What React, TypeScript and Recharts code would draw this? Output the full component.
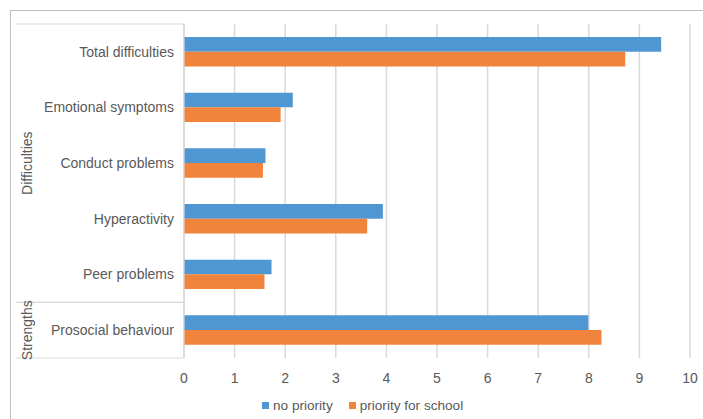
import { Bar, BarChart, CartesianGrid, Customized, Legend, XAxis, YAxis } from "recharts";

const CATEGORIES = [
  "Total difficulties",
  "Emotional symptoms",
  "Conduct problems",
  "Hyperactivity",
  "Peer problems",
  "Prosocial behaviour",
];
const NO_PRIORITY = [9.43, 2.15, 1.61, 3.93, 1.73, 7.99];
const PRIORITY_SCHOOL = [8.72, 1.91, 1.56, 3.62, 1.59, 8.25];
const X_TICKS = [0, 1, 2, 3, 4, 5, 6, 7, 8, 9, 10];
const GROUPS = [
  { name: "Difficulties", from: 0, to: 4 },
  { name: "Strengths", from: 5, to: 5 },
];

const BLUE = "#4f97d3";
const ORANGE = "#f1843c";
const TEXT = "#595959";
const LINE = "#d9d9d9";
const FONT = "'Liberation Sans', Arial, sans-serif";

const data = CATEGORIES.map((category, i) => ({
  category,
  noPriority: NO_PRIORITY[i],
  prioritySchool: PRIORITY_SCHOOL[i],
}));

const W = 703;
const H = 419;
const MARGIN = { top: 24, right: 13, bottom: 0, left: 16 };
const Y_WIDTH = 168;
const X_HEIGHT = 30;
const LEGEND_H = 31;

function GroupLabels() {
  const top = MARGIN.top;
  const bottom = H - MARGIN.bottom - X_HEIGHT - LEGEND_H;
  const band = (bottom - top) / CATEGORIES.length;
  const x1 = MARGIN.left;
  const x2 = MARGIN.left + Y_WIDTH;
  return (
    <g>
      {GROUPS.map((g) => {
        const y1 = top + g.from * band;
        const y2 = top + (g.to + 1) * band;
        const cy = (y1 + y2) / 2;
        return (
          <g key={g.name}>
            <line x1={x1} x2={x2} y1={y1} y2={y1} stroke={LINE} strokeWidth={1.2} />
            <line x1={x1} x2={x2} y1={y2} y2={y2} stroke={LINE} strokeWidth={1.2} />
            <text
              x={27}
              y={cy}
              transform={`rotate(-90 27 ${cy})`}
              textAnchor="middle"
              dominantBaseline="central"
              fill={TEXT}
              fontSize={14}
              fontFamily={FONT}
            >
              {g.name}
            </text>
          </g>
        );
      })}
    </g>
  );
}

function LegendContent() {
  const items = [
    { label: "no priority", color: BLUE },
    { label: "priority for school", color: ORANGE },
  ];
  return (
    <div style={{ display: "flex", gap: 16, paddingTop: 10, fontFamily: FONT, fontSize: 13.6, color: TEXT }}>
      {items.map((it) => (
        <div key={it.label} style={{ display: "flex", alignItems: "center" }}>
          <span style={{ width: 7, height: 7, background: it.color, display: "inline-block", marginRight: 4 }} />
          <span>{it.label}</span>
        </div>
      ))}
    </div>
  );
}

export default function App() {
  return (
    <div style={{ position: "absolute", left: 0, top: 0, width: W, height: H, overflow: "hidden", background: "#fff" }}>
      <div
        style={{
          position: "absolute",
          left: 10,
          top: 10,
          width: 900,
          height: 600,
          borderTop: "1.5px solid #bfbfbf",
          borderLeft: "1.5px solid #bfbfbf",
        }}
      />
      <div style={{ position: "absolute", left: 0, top: 0 }}>
        <BarChart
          width={W}
          height={H}
          data={data}
          layout="vertical"
          margin={MARGIN}
          barGap={0}
          barSize={14.7}
        >
          <CartesianGrid horizontal={false} stroke={LINE} strokeWidth={1.5} />
          <XAxis
            type="number"
            domain={[0, 10]}
            ticks={X_TICKS}
            interval={0}
            axisLine={false}
            tickLine={false}
            height={X_HEIGHT}
            tick={{ fill: TEXT, fontSize: 14, fontFamily: FONT }}
            tickMargin={9}
          />
          <YAxis
            type="category"
            dataKey="category"
            width={Y_WIDTH}
            axisLine={{ stroke: LINE, strokeWidth: 1.2 }}
            tickLine={false}
            tick={{ fill: TEXT, fontSize: 14, fontFamily: FONT }}
            tickMargin={4}
          />
          <Bar dataKey="noPriority" name="no priority" fill={BLUE} isAnimationActive={false} />
          <Bar dataKey="prioritySchool" name="priority for school" fill={ORANGE} isAnimationActive={false} />
          <Legend
            height={LEGEND_H}
            verticalAlign="bottom"
            content={<LegendContent />}
            wrapperStyle={{ left: 262, width: "auto" }}
          />
          <Customized component={<GroupLabels />} />
        </BarChart>
      </div>
    </div>
  );
}
